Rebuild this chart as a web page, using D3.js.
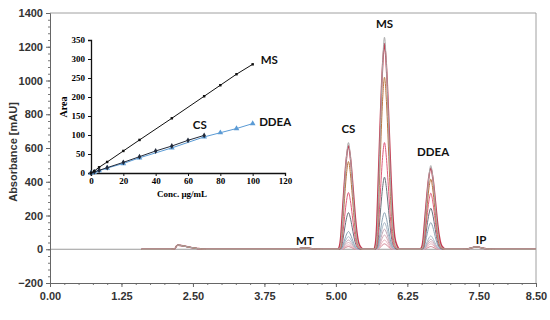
<!DOCTYPE html>
<html>
<head>
<meta charset="utf-8">
<script src="https://cdn.jsdelivr.net/npm/d3@7"></script>
<style>
  body { margin: 0; background: #fff; }
  #chart { width: 550px; height: 320px; }
  .axis text { font-family: "Liberation Sans", Arial, sans-serif; font-weight: bold; font-size: 11px; fill: #333; }
  .inset-axis text { font-family: "Liberation Serif", "Times New Roman", serif; font-weight: bold; font-size: 9px; fill: #000; }
  .peak-label { font-family: Lato, "Open Sans", sans-serif; font-weight: bold; font-size: 11.5px; fill: #111; }
</style>
</head>
<body>
<div id="chart"></div>
<script>
// ---- chromatogram data ----
const timeTicks = [0, 1.25, 2.5, 3.75, 5, 6.25, 7.5, 8.5];
const absTicks = [-200, 0, 200, 400, 600, 800, 1000, 1200, 1400];

const peakNames = ['CS', 'MS', 'DDEA'];
const peakTimes = [5.22, 5.85, 6.66];
// peak heights (mAU) for each concentration level, highest first
const csHeights = [632, 520, 336, 217, 105, 75, 55, 40, 26, 16];
const msHeights = [1256, 1019, 632, 427, 217, 158, 119, 85, 55, 32];
const ddeaHeights = [496, 415, 332, 243, 158, 79, 59, 45, 32, 16];
const traceColors = ['#a8a8a8', '#b8743f', '#e05a7a', '#6b6f7a', '#8aa3b5',
                     '#a9b9c9', '#c4a8b8', '#d8aab8', '#e8b0bc', '#d08090'];
const envelopeColor = '#c43c52';

// small peaks common to all runs
const minorNames = ['', 'MT', 'IP'];
const minorTimes = [2.24, 4.46, 7.46];
const minorHeights = [24, 8, 14];

// normalised peak shape: [offset (min), relative height]
const peakProfile = [[-0.17, 0], [-0.14, 0.03], [-0.12, 0.12], [-0.1, 0.3], [-0.07, 0.58],
                     [-0.035, 0.86], [0, 1], [0.035, 0.86], [0.07, 0.6], [0.1, 0.36],
                     [0.13, 0.17], [0.16, 0.06], [0.2, 0.015], [0.24, 0]];
const bumpProfile = [[-0.12, 0], [-0.06, 0.15], [-0.02, 0.9], [0, 1], [0.08, 0.85],
                     [0.2, 0.5], [0.34, 0.18], [0.48, 0]];

// ---- calibration inset data ----
const concMS = [0, 2, 5, 10, 20, 30, 50, 70, 80, 90, 100];
const areaMS = [0, 5, 15, 29, 58, 87, 144, 202, 231, 260, 286];
const concCS = [0, 2, 5, 10, 20, 30, 40, 50, 60, 70];
const areaCS = [0, 3, 7, 14, 28, 43, 58, 71, 86, 99];
const concDDEA = [0, 2, 5, 10, 20, 30, 50, 70, 80, 90, 100];
const areaDDEA = [0, 2, 6, 13, 25, 40, 66, 95, 106, 117, 130];
const insetXTicks = [0, 20, 40, 60, 80, 100, 120];
const insetYTicks = [0, 50, 100, 150, 200, 250, 300, 350];

const svg = d3.select('#chart').append('svg')
    .attr('width', 550)
    .attr('height', 320);

// ---- main chromatogram ----
const margin = {top: 13, right: 14, bottom: 37, left: 50};
const width = 550 - margin.left - margin.right;
const height = 320 - margin.top - margin.bottom;

const chart = svg.append('g')
    .attr('transform', `translate(${margin.left},${margin.top})`);

const xScale = d3.scaleLinear().domain([0, 8.5]).range([0, width]);
const yScale = d3.scaleLinear().domain([-200, 1400]).range([height, 0]);

// frame (top + right in light grey)
chart.append('path')
    .attr('d', `M0,0H${width}V${height}`)
    .attr('fill', 'none')
    .attr('stroke', '#a0a0a0');

// zero line
chart.append('line')
    .attr('x1', 0).attr('x2', width)
    .attr('y1', yScale(0)).attr('y2', yScale(0))
    .attr('stroke', '#9a9a9a');

// minor ticks
chart.append('g')
    .attr('transform', `translate(0,${height})`)
    .call(d3.axisBottom(xScale).tickValues(d3.range(0, 8.51, 0.25)).tickSize(2).tickFormat(''))
    .call(g => g.select('.domain').remove())
    .selectAll('line').attr('stroke', '#777');
chart.append('g')
    .call(d3.axisLeft(yScale).tickValues(d3.range(-200, 1401, 40)).tickSize(2).tickFormat(''))
    .call(g => g.select('.domain').remove())
    .selectAll('line').attr('stroke', '#777');

const xAxis = chart.append('g')
    .attr('class', 'axis')
    .attr('transform', `translate(0,${height})`)
    .call(d3.axisBottom(xScale).tickValues(timeTicks).tickSize(4).tickPadding(5).tickFormat(d3.format('.2f')));
const yAxis = chart.append('g')
    .attr('class', 'axis')
    .call(d3.axisLeft(yScale).tickValues(absTicks).tickSize(4).tickPadding(3).tickFormat(d3.format('d')));
[xAxis, yAxis].forEach(g => {
    g.select('.domain').attr('stroke', '#666');
    g.selectAll('.tick line').attr('stroke', '#666');
});

svg.append('text')
    .attr('transform', 'rotate(-90)')
    .attr('x', -152).attr('y', 17)
    .attr('text-anchor', 'middle')
    .style('font-family', '"Liberation Sans", Arial, sans-serif')
    .style('font-weight', 'bold').style('font-size', '11px').style('fill', '#333')
    .text('Absorbance [mAU]');

// build one trace as a list of [time, mAU] points
function buildTrace(heights, widthScale) {
    const pts = [[1.6, 0]];
    minorTimes.forEach((t, k) => {
        const prof = k === 0 ? bumpProfile : peakProfile;
        prof.forEach(p => pts.push([t + p[0] * (k === 0 ? 1 : 1.3), p[1] * minorHeights[k]]));
    });
    peakTimes.forEach((t, k) => {
        peakProfile.forEach(p => pts.push([t + p[0] * widthScale, p[1] * heights[k]]));
    });
    pts.push([8.5, 0]);
    return pts.sort((a, b) => a[0] - b[0]);
}

const line = d3.line()
    .x(d => xScale(d[0]))
    .y(d => yScale(d[1]))
    .curve(d3.curveMonotoneX);

// broad red envelope trace underneath
chart.append('path')
    .attr('d', line(buildTrace([csHeights[0] * 0.97, msHeights[0] * 0.97, ddeaHeights[0] * 0.97], 1.12)))
    .attr('fill', 'none')
    .attr('stroke', envelopeColor)
    .attr('stroke-width', 1.6);

const traces = csHeights.map((h, i) => buildTrace([csHeights[i], msHeights[i], ddeaHeights[i]], 1 - i * 0.025));
chart.selectAll('.trace')
    .data(traces.slice().reverse())
    .join('path')
    .attr('class', 'trace')
    .attr('d', line)
    .attr('fill', 'none')
    .attr('stroke', (d, i) => traceColors[traces.length - 1 - i])
    .attr('stroke-width', 1);

// peak labels
const labelData = [
    {name: peakNames[0], t: peakTimes[0], v: csHeights[0] + 55},
    {name: peakNames[1], t: peakTimes[1], v: msHeights[0] + 55},
    {name: peakNames[2], t: peakTimes[2] + 0.04, v: ddeaHeights[0] + 55},
    {name: minorNames[1], t: minorTimes[1], v: 25},
    {name: minorNames[2], t: minorTimes[2] + 0.08, v: 30}
];
chart.selectAll('.peak-label')
    .data(labelData)
    .join('text')
    .attr('class', 'peak-label')
    .attr('x', d => xScale(d.t))
    .attr('y', d => yScale(d.v))
    .attr('text-anchor', 'middle')
    .text(d => d.name);

// ---- calibration inset ----
const inset = svg.append('g').attr('transform', 'translate(91,40)');
const ix = d3.scaleLinear().domain([0, 120]).range([0, 194]);
const iy = d3.scaleLinear().domain([0, 350]).range([133, 0]);

const ixAxis = inset.append('g')
    .attr('class', 'inset-axis')
    .attr('transform', 'translate(0,133)')
    .call(d3.axisBottom(ix).tickValues(insetXTicks).tickSize(3).tickPadding(2));
const iyAxis = inset.append('g')
    .attr('class', 'inset-axis')
    .call(d3.axisLeft(iy).tickValues(insetYTicks).tickSize(3).tickPadding(3));
[ixAxis, iyAxis].forEach(g => {
    g.select('.domain').attr('stroke', '#111').attr('stroke-width', 1.3);
    g.selectAll('.tick line').attr('stroke', '#111');
});

inset.append('text')
    .attr('x', 91).attr('y', 157)
    .attr('text-anchor', 'middle')
    .style('font-family', '"Liberation Serif", "Times New Roman", serif')
    .style('font-weight', 'bold').style('font-size', '9px')
    .text('Conc. µg/mL');
inset.append('text')
    .attr('transform', 'rotate(-90)')
    .attr('x', -67).attr('y', -24)
    .attr('text-anchor', 'middle')
    .style('font-family', '"Liberation Serif", "Times New Roman", serif')
    .style('font-weight', 'bold').style('font-size', '10px')
    .text('Area');

const calSeries = [
    {name: 'DDEA', conc: concDDEA, area: areaDDEA, color: '#5b9bd5', symbol: d3.symbolTriangle, size: 14},
    {name: 'CS', conc: concCS, area: areaCS, color: '#222a3a', symbol: d3.symbolDiamond, size: 10},
    {name: 'MS', conc: concMS, area: areaMS, color: '#111', symbol: d3.symbolSquare, size: 6}
];
const iline = d3.line().x(d => ix(d[0])).y(d => iy(d[1]));

calSeries.forEach(s => {
    const pts = s.conc.map((c, i) => [c, s.area[i]]);
    inset.append('path')
        .attr('d', iline(pts))
        .attr('fill', 'none')
        .attr('stroke', s.color)
        .attr('stroke-width', 1);
    inset.selectAll(null)
        .data(pts)
        .join('path')
        .attr('transform', d => `translate(${ix(d[0])},${iy(d[1])})`)
        .attr('d', d3.symbol(s.symbol, s.size))
        .attr('fill', s.color);
});

const insetLabels = [
    {name: 'MS', c: 105, a: 287},
    {name: 'CS', c: 63, a: 115},
    {name: 'DDEA', c: 104, a: 125}
];
inset.selectAll('.peak-label')
    .data(insetLabels)
    .join('text')
    .attr('class', 'peak-label')
    .attr('x', d => ix(d.c))
    .attr('y', d => iy(d.a))
    .text(d => d.name);
</script>
</body>
</html>
